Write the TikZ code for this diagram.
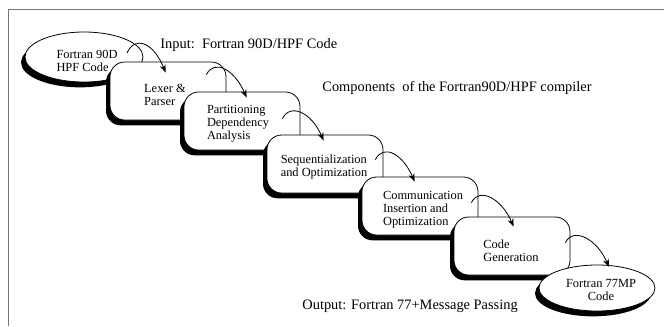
\documentclass[tikz,border=0pt]{standalone}
\usepackage{fontspec}
\setmainfont{Liberation Serif}
\usetikzlibrary{shapes.geometric,shadows,arrows.meta}
\tikzset{every path/.style={line width=0.6pt},
  stagebox/.style={draw, fill=white, rounded corners=11pt, minimum width=87pt, minimum height=43.5pt,
    drop shadow={shadow xshift=-3pt, shadow yshift=-4pt, fill=black, opacity=1}},
  codeoval/.style={draw, fill=white, ellipse, inner sep=0pt,
    drop shadow={shadow xshift=-3pt, shadow yshift=-4pt, fill=black, opacity=1}},
  stagetext/.style={font=\fontsize{9.3}{9.6}\selectfont, align=left, inner sep=0pt},
  notetext/.style={font=\fontsize{10.8}{13}\selectfont, anchor=base west, inner sep=0pt},
  flow/.style={-{Stealth[length=6pt,width=4.5pt]}}}

\begin{document}
\begin{tikzpicture}[x=0.75pt,y=-0.75pt]
  \useasboundingbox (0,0) rectangle (664,326);
  \draw[black!55, line width=1.3pt] (8.5,326) -- (8.5,9.5) -- (664,9.5);

  \node[codeoval, minimum width=88.5pt, minimum height=37.5pt] (src) at (84,57) {};
  \node[stagetext] at ([shift={(3,4)}]src.center) {Fortran 90D\\HPF Code};
  \node[stagebox] (lex)  at (168,91)  {};
  \node[stagetext] at ([shift={(-3,4)}]lex.center) {Lexer \&\\Parser};
  \node[stagebox] (part) at (242,121) {};
  \node[stagetext] at ([shift={(-4,3)}]part.center) {Partitioning\\Dependency\\Analysis};
  \node[stagebox] (seq)  at (325,164) {};
  \node[stagetext] at ([shift={(-1,3)}]seq.center) {Sequentialization\\and Optimization};
  \node[stagebox] (comm) at (420,206) {};
  \node[stagetext] at ([shift={(3,4)}]comm.center) {Communication\\Insertion and\\Optimization};
  \node[stagebox] (gen)  at (512,246) {};
  \node[stagetext] at ([shift={(-1,5)}]gen.center) {Code\\Generation};
  \node[codeoval, minimum width=87pt, minimum height=34.5pt] (dst) at (597,288) {};
  \node[stagetext, align=center] at ([shift={(4,2)}]dst.center) {Fortran 77MP\\Code};

  \draw[flow] ([shift={(43,-4)}]src.center)    .. controls +(8,-18) and +(-12,-30) .. ([shift={(56,11)}]lex.north west);
  \draw[flow] ([shift={(-20,13)}]lex.north east)  .. controls +(8,-16) and +(-12,-28) .. ([shift={(63,6)}]part.north west);
  \draw[flow] ([shift={(-18,27)}]part.north east) .. controls +(8,-16) and +(-12,-28) .. ([shift={(57,6)}]seq.north west);
  \draw[flow] ([shift={(-8,25)}]seq.north east)   .. controls +(8,-16) and +(-12,-28) .. ([shift={(53,5)}]comm.north west);
  \draw[flow] ([shift={(-7,26)}]comm.north east)  .. controls +(8,-16) and +(-12,-28) .. ([shift={(60,10)}]gen.north west);
  \draw[flow] ([shift={(-5,26)}]gen.north east)   .. controls +(8,-16) and +(-12,-28) .. ([shift={(12,-21)}]dst.center);

  \node[notetext] at (160,48) {Input:\ \ Fortran 90D/HPF Code};
  \node[notetext] at (322,91) {Components\ \ of the Fortran90D/HPF compiler};
  \node[notetext] at (302,309) {Output: Fortran 77+Message Passing};
\end{tikzpicture}
\end{document}
